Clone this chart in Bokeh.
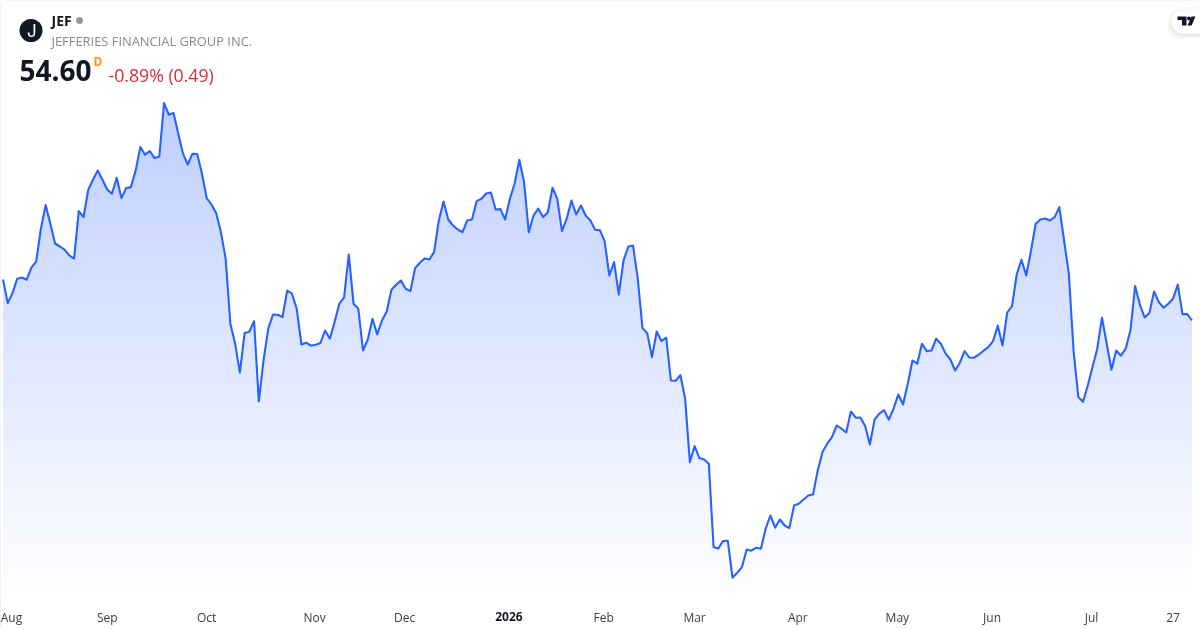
import numpy as np
from bokeh.plotting import figure
from bokeh.models import Label, BoxAnnotation, PolyAnnotation, FixedTicker, Range1d, LinearAxis
from bokeh.embed import file_html
from bokeh.resources import INLINE

ticker = "JEF"
company = "JEFFERIES FINANCIAL GROUP INC."
last_price = "54.60"
interval = "D"
change = "-0.89% (0.49)"
tick_positions = [1.8, 22, 43, 65.8, 84.8, 106.8, 126.8, 146, 167.8, 188.8, 208.8, 229.8, 247]
tick_labels = ["Aug", "Sep", "Oct", "Nov", "Dec", "2026", "Feb", "Mar", "Apr", "May", "Jun", "Jul", "27"]
bold_tick = "2026"
prices = [
 56.65,55.47,55.97,56.69,56.75,56.64,57.24,57.54,59.19,60.37,59.44,58.45,58.30,58.14,57.85,57.69,60.07,59.77,61.14,61.64,
 62.10,61.64,61.15,60.94,61.74,60.72,61.22,61.27,62.10,63.27,62.89,63.07,62.72,62.80,65.47,64.89,64.97,63.94,62.94,62.40,
 62.94,62.92,61.94,60.72,60.40,59.97,59.02,57.69,54.44,53.44,51.99,53.97,54.04,54.57,50.55,52.60,54.19,54.90,54.89,54.77,
 56.10,55.94,55.19,53.40,53.49,53.34,53.39,53.47,54.10,53.69,54.52,55.44,55.74,57.90,55.44,55.19,53.10,53.64,54.69,53.90,
 54.60,55.05,56.14,56.39,56.60,56.19,56.07,57.22,57.49,57.70,57.65,58.02,59.60,60.55,59.65,59.35,59.15,59.02,59.60,59.65,
 60.57,60.69,60.95,61.00,60.15,60.17,59.65,60.69,61.44,62.64,61.52,59.02,59.85,60.19,59.77,60.00,61.24,60.69,59.07,59.69,
 60.60,59.90,60.35,59.85,59.60,59.14,59.12,58.57,56.85,57.52,55.89,57.60,58.30,58.35,56.69,54.22,53.97,52.77,54.05,53.57,
 53.74,51.60,51.59,51.87,50.69,47.52,48.32,47.72,47.65,47.44,43.27,43.20,43.57,43.59,41.74,41.99,42.27,43.15,43.09,43.24,
 43.19,44.19,44.85,44.24,44.65,44.35,44.22,45.35,45.44,45.65,45.85,45.90,47.10,48.02,48.44,48.77,49.35,49.19,49.00,50.05,
 49.74,49.75,49.32,48.40,49.64,49.94,50.12,49.64,50.19,50.90,50.40,51.44,52.60,52.44,53.44,53.07,53.10,53.69,53.44,52.94,
 52.65,52.10,52.49,53.07,52.75,52.74,52.89,53.09,53.27,53.57,54.34,53.35,55.00,55.32,56.90,57.64,56.85,58.07,59.44,59.65,
 59.70,59.60,59.77,60.27,58.60,56.94,53.10,50.77,50.54,51.35,52.27,53.19,54.74,53.44,52.14,53.10,52.84,53.19,54.10,56.32,
 55.39,54.75,54.97,56.05,55.52,55.24,55.44,55.69,56.39,54.92,54.92,54.60,
]

x = np.arange(len(prices))
WIDTH, HEIGHT = 1200, 630
FRAME_H = 597
STEP = 4.737
X0 = 2.5
y_top = 70.6
y_bottom = y_top - FRAME_H / 20


def Y(top):
    return FRAME_H - top


p = figure(width=WIDTH, height=HEIGHT, output_backend="svg", toolbar_location=None,
           x_range=Range1d(-X0 / STEP, (WIDTH - X0) / STEP), y_range=Range1d(y_bottom, y_top),
           min_border_left=0, min_border_right=0, min_border_top=0, min_border_bottom=HEIGHT - FRAME_H,
           background_fill_color="white", border_fill_color="white")
p.styles = {"position": "fixed", "left": "0", "top": "0", "outline": "1px solid #e6e6e6",
            "outline-offset": "-1px", "border-radius": "4px"}
p.outline_line_color = None
p.grid.visible = False
p.yaxis.visible = False


def style_axis(ax):
    ax.axis_line_color = None
    ax.major_tick_line_color = None
    ax.minor_tick_line_color = None
    ax.major_label_text_font = "Open Sans"
    ax.major_label_text_font_size = "12px"


ax = p.xaxis[0]
ax.ticker = FixedTicker(ticks=tick_positions)
ax.major_label_overrides = {t: (l if l != bold_tick else "") for t, l in zip(tick_positions, tick_labels)}
style_axis(ax)
ax.major_label_text_color = "#3a3e4a"
ax.major_label_standoff = 5

# second axis: only the bold year label, pulled back up onto the first axis' row
bold_pos = tick_positions[tick_labels.index(bold_tick)]
ax2 = LinearAxis(ticker=FixedTicker(ticks=[bold_pos]), major_label_overrides={bold_pos: bold_tick})
style_axis(ax2)
ax2.major_label_text_font_style = "bold"
ax2.major_label_text_color = "#131722"
ax2.major_label_standoff = -23
p.add_layout(ax2, "below")

# vertical gradient under the line
N = 256
top_rgb = np.array([41, 98, 255])
alpha = np.linspace(0, 0.30, N)
rgb = (255 * (1 - alpha)[:, None] + top_rgb * alpha[:, None]).astype(np.uint8)
img = np.zeros((N, 1), dtype=np.uint32)
view = img.view(np.uint8).reshape(N, 1, 4)
view[:, 0, 0:3] = rgb
view[:, 0, 3] = 255
top_val = max(prices)
p.image_rgba(image=[img], x=0, y=y_bottom, dw=len(prices) - 1, dh=top_val - y_bottom)
p.varea(x=x, y1=prices, y2=y_top, fill_color="white")
p.line(x, prices, line_color="#2962ff", line_width=2.1, line_join="round")


def T(txt, left, top, size, color, style="normal", font="Open Sans"):
    p.add_layout(Label(x=left, y=Y(top), x_units="screen", y_units="screen", text=txt, level="overlay",
                       text_font=font, text_font_size=f"{size}px", text_color=color, text_font_style=style,
                       text_baseline="middle", text_align="left"))


def box(l, r, t, b, fill, alpha=1.0, line=None, radius=0, level="overlay"):
    p.add_layout(BoxAnnotation(left=l, right=r, top=Y(t), bottom=Y(b), left_units="screen", right_units="screen",
                               top_units="screen", bottom_units="screen", fill_color=fill, fill_alpha=alpha,
                               line_color=line, border_radius=int(radius), level=level, editable=False))


# header
box(19, 42, 18.5, 41.5, "#131722", radius=12)
T("J", 26.5, 30, 17, "white", font="Inter")
T(ticker, 51, 20, 14, "#131722", "bold")
box(75.5, 82.5, 16.5, 23.5, "#9598a1", radius=4)
T(company, 51, 40, 12.9, "#8a8a8a")
T(last_price, 19, 70, 28, "#131722", "bold")
T(interval, 93, 61, 12, "#ff9800", "bold")
T(change, 108, 74, 17.7, "#d0303f")

# logo tab
for grow, a in ((5, 0.012), (3.5, 0.018), (2, 0.025), (1, 0.03)):
    box(1171 - grow, 1215, 10 - grow + 1.5, 33 + grow + 1.5, "#000000", alpha=a, radius=11 + grow)
box(1171, 1215, 10, 33, "white", radius=11)
for xs, ys in (([1177, 1186, 1186, 1181.5, 1181.5, 1177], [16, 16, 25, 25, 19.5, 19.5]),
               ([1191, 1195, 1191, 1187], [16, 16, 25, 25])):
    p.add_layout(PolyAnnotation(xs=xs, ys=[Y(v) for v in ys], xs_units="screen", ys_units="screen",
                                fill_color="#131722", fill_alpha=1, line_color=None, level="overlay"))
box(1186.5, 1190.5, 16, 20, "#131722", radius=2)

open("out.html", "w").write(file_html(p, INLINE))
